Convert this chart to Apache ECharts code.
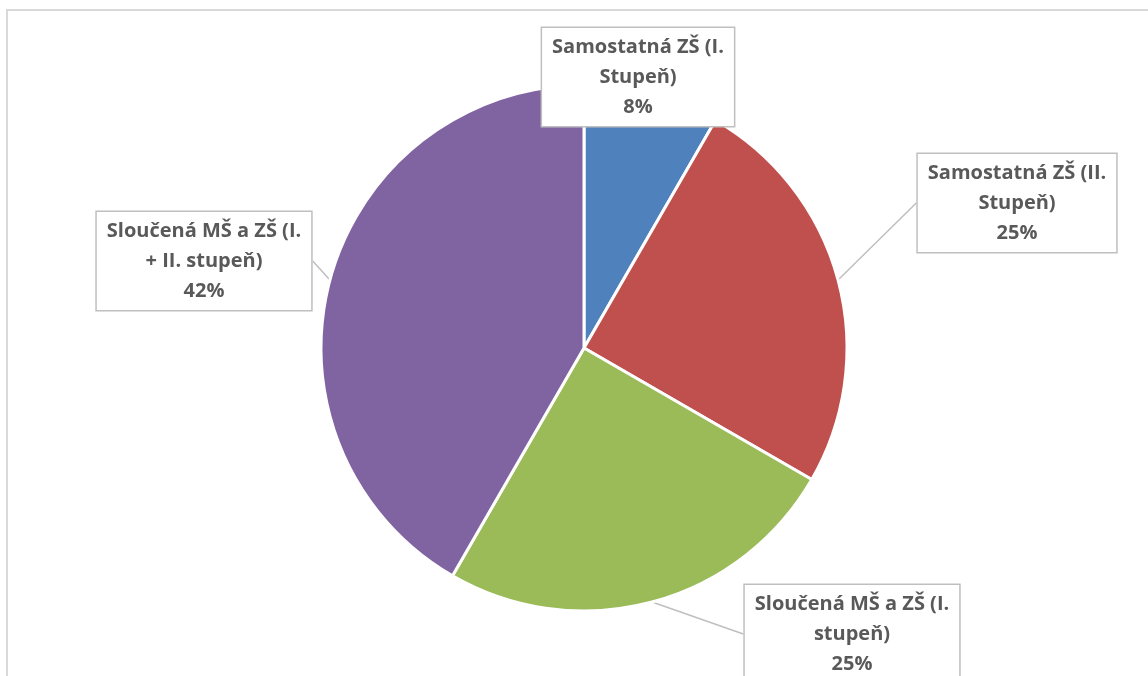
<!DOCTYPE html>
<html>
<head>
<meta charset="utf-8">
<script src="https://cdn.jsdelivr.net/npm/echarts@6/dist/echarts.min.js"></script>
<style>
  html, body { margin: 0; padding: 0; background: #fff; }
  #chart { width: 1148px; height: 676px; }
</style>
</head>
<body>
<div id="chart"></div>
<script>
// categories and values (counts -> shares 1/12, 3/12, 3/12, 5/12)
const categories = ['Samostatná ZŠ (I.\nStupeň)', 'Samostatná ZŠ (II.\nStupeň)', 'Sloučená MŠ a ZŠ (I.\nstupeň)', 'Sloučená MŠ a ZŠ (I.\n+ II. stupeň)'];
const values = [1, 3, 3, 5];
const colors = ['#4F81BD', '#C0504D', '#9BBB59', '#8064A2'];
// label box centres
const labelPos = [[638, 77], [1017, 203], [852, 634], [204, 261]];

const chart = echarts.init(document.getElementById('chart'));
const option = {
  animation: false,
  graphic: [
    { type: 'rect', shape: { x: 7, y: 10, width: 1200, height: 720 }, style: { fill: 'none', stroke: '#d9d9d9', lineWidth: 2 }, silent: true }
  ],
  series: [{
    type: 'pie',
    center: [584, 348],
    radius: [0, 263],
    startAngle: 90,
    clockwise: true,
    data: categories.map((c, i) => ({ name: c, value: values[i], itemStyle: { color: colors[i] } })),
    itemStyle: { borderColor: '#fff', borderWidth: 3 },
    label: {
      show: true,
      formatter: function(p){ return p.name + '\n' + Math.round(p.percent) + '%'; },
      fontFamily: '"Open Sans", sans-serif',
      fontWeight: 'bold',
      fontSize: 20,
      lineHeight: 30,
      color: '#595959',
      align: 'center',
      backgroundColor: '#fff',
      borderColor: '#bfbfbf',
      borderWidth: 1.5,
      padding: [4, 10]
    },
    labelLine: { show: true, length: 0, length2: 0, lineStyle: { color: '#bfbfbf', width: 1.5 } },
    labelLayout: function(params){
      const p = labelPos[params.dataIndex];
      return { x: p[0], y: p[1], align: 'center', verticalAlign: 'middle' };
    }
  }]
};
chart.setOption(option);
</script>
</body>
</html>
